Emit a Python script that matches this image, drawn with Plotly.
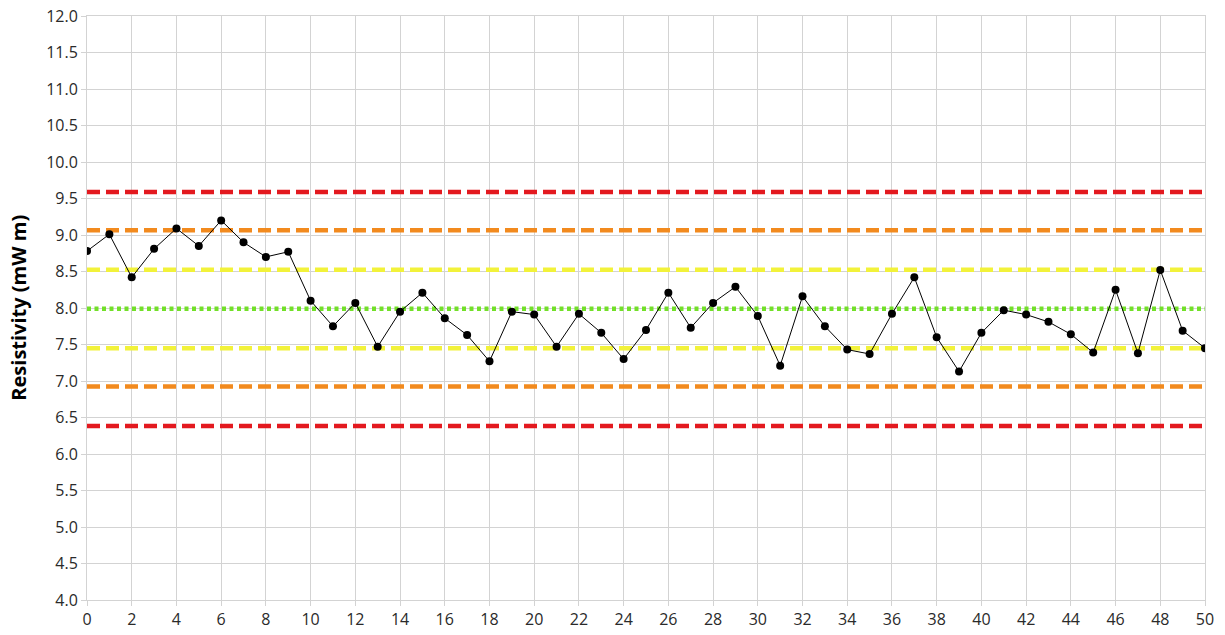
import plotly.graph_objects as go

sample_index = list(range(51))
resistivity = [8.78, 9.01, 8.42, 8.81, 9.09, 8.85, 9.20, 8.90, 8.70, 8.77,
               8.10, 7.75, 8.07, 7.47, 7.95, 8.21, 7.86, 7.63, 7.27, 7.95,
               7.91, 7.47, 7.92, 7.66, 7.30, 7.70, 8.21, 7.73, 8.07, 8.29,
               7.89, 7.21, 8.16, 7.75, 7.43, 7.37, 7.92, 8.42, 7.60, 7.13,
               7.66, 7.97, 7.91, 7.81, 7.64, 7.39, 8.25, 7.38, 8.52, 7.69,
               7.45]

center_line = 7.99
limit_values = [9.59, 9.065, 8.525, 7.45, 6.925, 6.385]
limit_colors = ["#e3191f", "#f28a1e", "#f2f23a", "#f2f23a", "#f28a1e", "#e3191f"]
center_color = "#72e028"

x_ticks = list(range(0, 51, 2))
y_ticks = [4 + 0.5 * i for i in range(17)]
y_tick_labels = [f"{v:.1f}" for v in y_ticks]

fig = go.Figure()

for val, col in zip(limit_values, limit_colors):
    fig.add_trace(go.Scatter(
        x=[sample_index[0], sample_index[-1]], y=[val, val], mode="lines",
        line=dict(color=col, width=4.5, dash="13px,6px"),
        hoverinfo="skip", showlegend=False))

fig.add_trace(go.Scatter(
    x=[sample_index[0], sample_index[-1]], y=[center_line, center_line], mode="lines",
    line=dict(color=center_color, width=4.5, dash="4px,3.5px"),
    hoverinfo="skip", showlegend=False))

fig.add_trace(go.Scatter(
    x=sample_index, y=resistivity, mode="lines+markers",
    line=dict(color="black", width=1),
    marker=dict(color="black", size=8),
    showlegend=False))

grid = "#d3d3d3"
fig.update_layout(
    width=1225, height=635,
    margin=dict(l=87, r=20, t=16, b=35),
    paper_bgcolor="white", plot_bgcolor="white",
    font=dict(family="Open Sans", size=16, color="#2a2a2a"),
    xaxis=dict(range=[0, 50], tickmode="array", tickvals=x_ticks,
               showgrid=True, gridcolor=grid, gridwidth=1,
               showline=True, linecolor=grid, mirror=True, automargin=False,
               ticks="outside", ticklen=5, tickcolor=grid, zeroline=False),
    yaxis=dict(range=[4, 12], tickmode="array", tickvals=y_ticks, ticktext=y_tick_labels,
               showgrid=True, gridcolor=grid, gridwidth=1,
               showline=True, linecolor=grid, mirror=True, automargin=False,
               ticks="outside", ticklen=5, tickcolor=grid, zeroline=False),
    annotations=[dict(text="<b>Resistivity (mW m)</b>", textangle=-90,
                      xref="paper", yref="paper", x=-0.062, y=0.5,
                      xanchor="center", yanchor="middle", showarrow=False,
                      font=dict(family="Open Sans", size=20, color="black"))],
)

fig.write_html("out.html", config={"displayModeBar": False},
               post_script="document.body.style.margin='0';document.body.style.overflow='hidden';")
